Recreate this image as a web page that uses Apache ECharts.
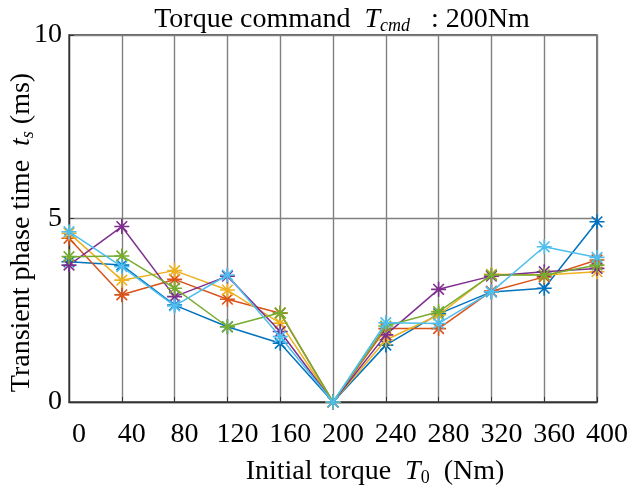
<!DOCTYPE html>
<html>
<head>
<meta charset="utf-8">
<script src="https://cdn.jsdelivr.net/npm/echarts@6/dist/echarts.min.js"></script>
<style>
  html, body { margin: 0; padding: 0; background: #fff; }
  #chart { width: 639px; height: 491px; }
</style>
</head>
<body>
<div id="chart"></div>
<script>
// initial torque T0 (Nm)
const torques = [0, 40, 80, 120, 160, 200, 240, 280, 320, 360, 400];

// transient phase time ts (ms), one array per run
const run1 = [3.82, 3.73, 2.64, 2.05, 1.60, 0, 1.55, 2.40, 3.00, 3.10, 4.91];
const run2 = [4.46, 2.92, 3.34, 2.80, 2.42, 0, 2.00, 2.00, 3.02, 3.41, 3.87];
const run3 = [4.60, 3.32, 3.58, 3.05, 2.15, 0, 1.69, 2.37, 3.48, 3.46, 3.55];
const run4 = [3.73, 4.78, 2.87, 3.43, 1.92, 0, 1.83, 3.07, 3.43, 3.55, 3.64];
const run5 = [3.96, 3.98, 3.10, 2.05, 2.43, 0, 2.07, 2.46, 3.46, 3.46, 3.73];
const run6 = [4.64, 3.69, 2.62, 3.46, 1.78, 0, 2.16, 2.14, 3.00, 4.23, 3.94];

const runs = [run1, run2, run3, run4, run5, run6];
const colors = ["#0072BD", "#D95319", "#EDB120", "#7E2F8E", "#77AC30", "#4DBEEE"];

const serif = "Liberation Serif, Times New Roman, serif";
const asterisk = "path://M10,0L10,20M0,10L20,10M2.93,2.93L17.07,17.07M2.93,17.07L17.07,2.93";
const fs = 28;

const richText = {
  i: { fontFamily: serif, fontSize: fs, fontStyle: "italic", color: "#000" },
  sub: { fontFamily: serif, fontSize: 18, fontStyle: "italic", color: "#000", verticalAlign: "bottom", padding: [12, 0, 0, 0] },
  subr: { fontFamily: serif, fontSize: 18, color: "#000", verticalAlign: "bottom", padding: [12, 0, 0, 0] },
};

const chart = echarts.init(document.getElementById("chart"), null, { renderer: "canvas" });

chart.setOption({
  animation: false,
  title: {
    text: "Torque command  {i|T}{sub|cmd}   : 200Nm",
    left: 337,
    textAlign: "center",
    top: 0,
    textStyle: {
      fontFamily: serif,
      fontSize: fs,
      fontWeight: "normal",
      color: "#000",
      rich: richText,
    },
  },
  grid: {
    left: 69, right: 42, top: 35, bottom: 89,
    outerBoundsMode: "none",
    containLabel: false,
    show: true, borderColor: "#333", borderWidth: 1.3,
  },
  xAxis: {
    type: "value",
    min: 0,
    max: 400,
    interval: 40,
    name: "Initial torque  {i|T}{subr|0}  (Nm)",
    nameLocation: "middle",
    nameGap: 55,
    nameMoveOverlap: false,
    nameTextStyle: {
      fontFamily: serif,
      fontSize: fs,
      color: "#000",
      padding: [0, 0, 0, 84],
      rich: richText,
    },
    axisLine: { show: true, lineStyle: { color: "#333", width: 1.3 } },
    axisTick: { show: true, inside: true, length: 5, lineStyle: { color: "#333" } },
    axisLabel: { fontFamily: serif, fontSize: fs, color: "#000", margin: 19, padding: [0, 0, 0, 20] },
    splitLine: { show: true, lineStyle: { color: "#808080", width: 1.4 } },
  },
  yAxis: {
    type: "value",
    min: 0,
    max: 10,
    interval: 5,
    name: "Transient phase time  {i|t}{sub|s} (ms)",
    nameLocation: "middle",
    nameGap: 32,
    nameMoveOverlap: false,
    nameRotate: 90,
    nameTextStyle: {
      fontFamily: serif,
      fontSize: fs,
      color: "#000",
      padding: [0, 28, 0, 0],
      rich: richText,
    },
    axisLine: { show: true, lineStyle: { color: "#333", width: 1.3 } },
    axisTick: { show: true, inside: true, length: 5, lineStyle: { color: "#333" } },
    axisLabel: { fontFamily: serif, fontSize: fs, color: "#000", margin: 7 },
    splitLine: { show: true, lineStyle: { color: "#808080", width: 1.4 } },
  },
  series: runs.map((vals, i) => ({
    type: "line",
    data: torques.map((t, j) => [t, vals[j]]),
    symbol: asterisk,
    symbolSize: 15,
    showAllSymbol: true,
    lineStyle: { color: colors[i], width: 1.5 },
    itemStyle: { color: "rgba(0,0,0,0)", borderColor: colors[i], borderWidth: 1.6 },
    clip: false,
    z: 3 + i,
  })),
});
</script>
</body>
</html>
